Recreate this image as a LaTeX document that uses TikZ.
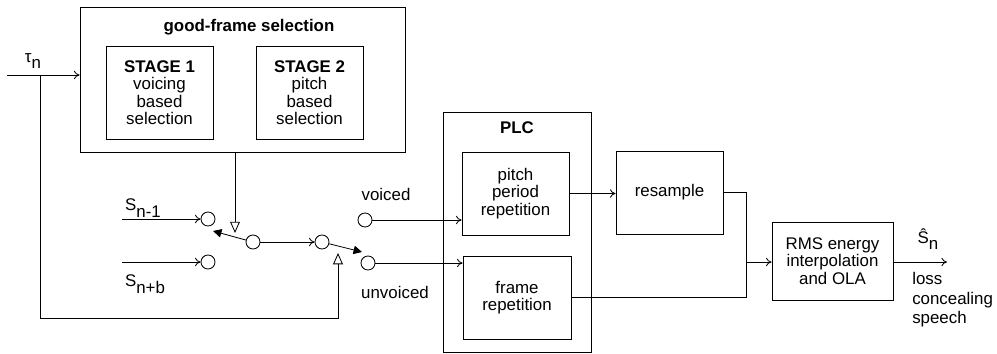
\documentclass[tikz,border=0pt]{standalone}
\usepackage{fontspec}
\setmainfont{Liberation Sans}
\usetikzlibrary{arrows.meta,positioning}

\begin{document}
\begin{tikzpicture}[x=0.025cm,y=-0.025cm]
		\tikzstyle{Block}	= [draw, line width=0.6pt, align=center, inner sep=0pt, font=\fontsize{12}{12.4}\selectfont]
		\tikzstyle{Port} 	= [circle, draw, fill=white, minimum size=0.35cm, inner sep=0pt, line width=0.6pt]
		\tikzstyle{Label}	= [inner sep=0pt, font=\fontsize{12}{14}\selectfont]
		\tikzstyle{Sig}		= [line width=0.6pt, -{To[length=4pt,width=6pt]}]
		\tikzstyle{Wire}	= [line width=0.6pt]
		\tikzstyle{Ctrl}	= [line width=0.6pt, -{Triangle[open,length=8pt,width=7pt]}]
		\tikzstyle{Arm}		= [line width=0.6pt]
		
		\useasboundingbox (0,0) rectangle (997,354);
		
		% selection blocks
		\node (gf) at (242.5,79.5) [Block, minimum width=8.125cm, minimum height=3.625cm] {};
		\node (gftitle) at (249,27) [Label] {\textbf{good-frame selection}};
		\node (stage1) at (159.5,92.5) [Block, minimum width=2.675cm, minimum height=2.325cm] {\textbf{STAGE 1}\\voicing\\based\\selection};
		\node (stage2) at (309.5,92.5) [Block, minimum width=2.675cm, minimum height=2.325cm] {\textbf{STAGE 2}\\pitch\\based\\selection};
		
		% PLC blocks
		\node (plc) at (517,232) [Block, minimum width=3.7cm, minimum height=6cm] {};
		\node (plctitle) at (517,128) [Label] {\textbf{PLC}};
		\node (pitch) at (515.5,193.5) [Block, minimum width=2.675cm, minimum height=2.075cm] {pitch\\period\\repetition};
		\node (frame) at (517,297.5) [Block, minimum width=2.7cm, minimum height=2.075cm] {frame\\repetition};
		\node (resample) at (669.5,192.5) [Block, minimum width=2.675cm, minimum height=2.075cm] {resample};
		\node (rms) at (832.5,261) [Block, minimum width=3.025cm, minimum height=1.95cm] {RMS energy\\interpolation\\and OLA};
		
		% switch ports
		\node (sA) at (208,219) [Port] {};
		\node (sB) at (208,262) [Port] {};
		\node (sw1) at (253,242) [Port] {};
		\node (sw2) at (322,242) [Port] {};
		\node (pV) at (365,220) [Port] {};
		\node (pU) at (368,263) [Port] {};
		
		% labels
		\node (tau) at (33,61) [Label] {τ\raisebox{-0.65ex}{n}};
		\node (sprev) at (143,208) [Label] {S\raisebox{-0.75ex}{n-1}};
		\node (snext) at (145,284) [Label] {S\raisebox{-0.75ex}{n+b}};
		\node (voiced) at (386,194) [Label] {voiced};
		\node (unvoiced) at (395,292) [Label] {unvoiced};
		\node (shat) at (928,239) [Label] {Ŝ\raisebox{-0.75ex}{n}};
		\node (loss) at (912,272) [Label, anchor=north west, align=left] {loss\\concealing\\speech};
		
		\coordinate (tauin) at (7,75);
		\coordinate (tauj) at (40,75);
		\coordinate (taub) at (338,318);
		\coordinate (ctl1) at (235,233);
		\coordinate (ctl2) at (338,253);
		\coordinate (inA) at (122,219);
		\coordinate (inB) at (122,262);
		\coordinate (arm1) at (213,231);
		\coordinate (arm2) at (362,252);
		\coordinate (mix) at (746,262);
		\coordinate (out) at (947,262);
		
		\draw [Sig] (tauin) to (gf.west |- tauin);
		\draw [Ctrl] (tauj) |- (taub) -- (ctl2);
		\draw [Ctrl] (gf.south -| ctl1) to (ctl1);
		\draw [Sig] (inA) to (sA);
		\draw [Sig] (inB) to (sB);
		\draw [Arm, {Triangle[length=6pt,width=6pt]}-] (arm1) to (sw1);
		\draw [Sig] (sw1) to (sw2);
		\draw [Arm, -{Triangle[length=6pt,width=6pt]}] (sw2) to (arm2);
		\draw [Sig] (pV) to (pitch.west |- pV);
		\draw [Sig] (pU) to (frame.west |- pU);
		\draw [Sig] (pitch.east) to (resample.west |- pitch.east);
		\draw [Wire] (resample.east) -| (mix);
		\draw [Wire] (frame.east) -| (mix);
		\draw [Sig] (mix) to (rms.west |- mix);
		\draw [Sig] (rms.east |- out) to (out);
	\end{tikzpicture}
\end{document}
